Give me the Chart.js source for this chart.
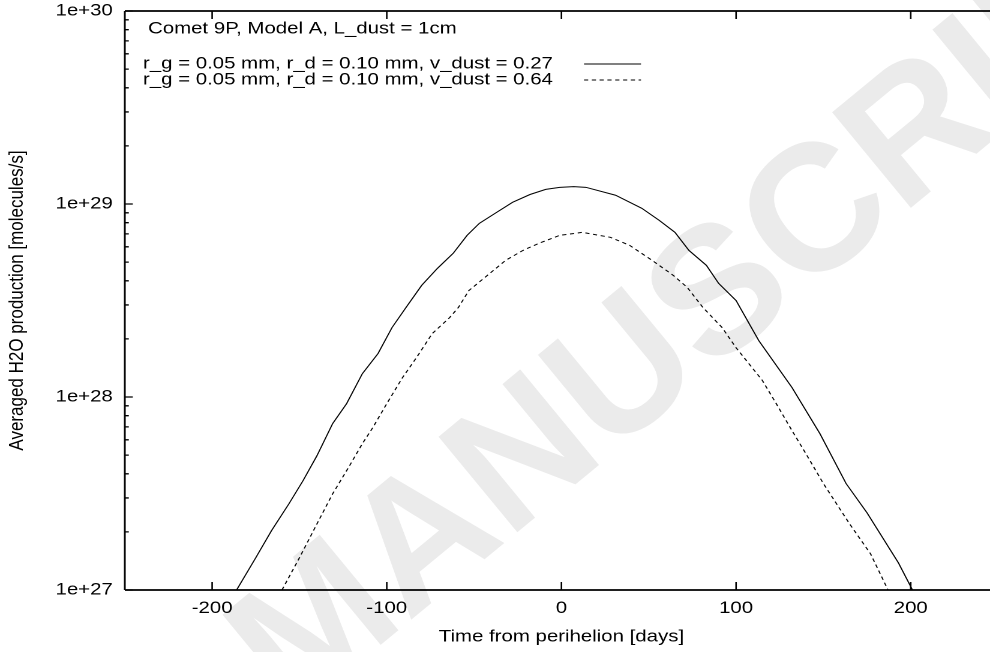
<!DOCTYPE html>
<html>
<head>
<meta charset="utf-8">
<script src="https://cdn.jsdelivr.net/npm/chart.js@4.4.0/dist/chart.umd.min.js"></script>
<style>
    html, body { margin: 0; padding: 0; background: #fff; overflow: hidden; width: 990px; height: 652px; }
    /* the original plot is stretched sideways, so draw narrow and widen it */
    #wrap { position: absolute; left: 0; top: 0; width: 834px; height: 652px; transform: scaleX(1.2); transform-origin: 0 0; }
</style>
</head>
<body>
<div id="wrap"><canvas id="chart" width="834" height="652"></canvas></div>
<script>
const STRETCH = 1.2;
const FONT = '"Liberation Sans", Arial, Helvetica, sans-serif';
const FONT_SIZE = 17;

// v_dust = 0.27 (solid)
const daysSolid = [-186, -175, -166, -156, -148, -140, -131, -123, -114, -105, -97, -89, -80, -71, -62, -54, -47, -37, -28, -18, -9, -1, 7, 14, 31, 46, 56, 65, 73, 83, 90, 100, 113, 132, 148, 163, 175, 193, 201];
const prodSolid = [1.0e27, 1.47e27, 2.03e27, 2.80e27, 3.68e27, 4.96e27, 7.28e27, 9.24e27, 1.32e28, 1.68e28, 2.29e28, 2.91e28, 3.79e28, 4.64e28, 5.55e28, 6.88e28, 7.94e28, 9.06e28, 1.02e29, 1.12e29, 1.19e29, 1.22e29, 1.23e29, 1.22e29, 1.11e29, 9.50e28, 8.23e28, 7.13e28, 5.75e28, 4.81e28, 3.88e28, 3.16e28, 1.96e28, 1.12e28, 6.46e27, 3.56e27, 2.51e27, 1.38e27, 1.0e27];

// v_dust = 0.64 (dashed)
const daysDashed = [-160, -150, -140, -131, -122, -114, -108, -100, -91, -83, -74, -64, -59, -53, -41, -32, -22, -13, -1, 12, 28, 39, 52, 64, 72, 81, 92, 100, 115, 123, 132, 140, 150, 165, 177, 187];
const prodDashed = [1.0e27, 1.47e27, 2.20e27, 3.15e27, 4.30e27, 5.73e27, 6.94e27, 9.24e27, 1.26e28, 1.60e28, 2.13e28, 2.58e28, 2.91e28, 3.56e28, 4.37e28, 5.10e28, 5.75e28, 6.25e28, 6.88e28, 7.13e28, 6.72e28, 6.11e28, 5.10e28, 4.27e28, 3.70e28, 2.91e28, 2.29e28, 1.80e28, 1.22e28, 9.24e27, 6.70e27, 5.08e27, 3.56e27, 2.20e27, 1.54e27, 1.0e27];

const seriesLabels = [
    'r_g = 0.05 mm, r_d = 0.10 mm, v_dust = 0.27',
    'r_g = 0.05 mm, r_d = 0.10 mm, v_dust = 0.64'
];
const plotTitle = 'Comet 9P, Model A, L_dust = 1cm';

const xTickValues = [-200, -100, 0, 100, 200];
const yTickValues = [1e27, 1e28, 1e29, 1e30];
const yTickLabels = ['1e+27', '1e+28', '1e+29', '1e+30'];

function toPoints(xs, ys) {
    return xs.map((x, i) => ({ x: x, y: ys[i] }));
}

/**
 * Light diagonal watermark behind everything
 */
const watermarkPlugin = {
    id: 'watermark',
    beforeDraw(chart) {
        const ctx = chart.ctx;
        ctx.save();
        ctx.scale(1 / STRETCH, 1);
        ctx.translate(292, 718);
        ctx.rotate(-39.5 * Math.PI / 180);
        ctx.font = 'bold 180px ' + FONT;
        ctx.fillStyle = '#ebebeb';
        ctx.textBaseline = 'alphabetic';
        ctx.fillText('MANUSCRIPT', 0, 0);
        ctx.restore();
    }
};

/**
 * gnuplot style frame with inward ticks, plus the key in the corner
 */
const framePlugin = {
    id: 'frame',
    afterDraw(chart) {
        const ctx = chart.ctx;
        const area = chart.chartArea;
        const xs = chart.scales.x;
        const ys = chart.scales.y;

        ctx.save();
        ctx.strokeStyle = '#000';

        // horizontal edges
        ctx.lineWidth = 1.8;
        ctx.beginPath();
        ctx.moveTo(area.left, area.top); ctx.lineTo(area.right, area.top);
        ctx.moveTo(area.left, area.bottom); ctx.lineTo(area.right, area.bottom);
        ctx.stroke();
        // vertical edges
        ctx.lineWidth = 1.5;
        ctx.beginPath();
        ctx.moveTo(area.left, area.top); ctx.lineTo(area.left, area.bottom);
        ctx.moveTo(area.right, area.top); ctx.lineTo(area.right, area.bottom);
        ctx.stroke();

        // x ticks, bottom and top
        ctx.lineWidth = 1.3;
        ctx.beginPath();
        xTickValues.forEach(v => {
            const px = xs.getPixelForValue(v);
            ctx.moveTo(px, area.bottom); ctx.lineTo(px, area.bottom - 8);
            ctx.moveTo(px, area.top); ctx.lineTo(px, area.top + 8);
        });
        ctx.stroke();

        // y ticks, major and minor, left and right
        ctx.beginPath();
        yTickValues.forEach(dec => {
            for (let m = 1; m <= 9; m++) {
                const v = dec * m;
                if (v > yTickValues[yTickValues.length - 1]) break;
                const py = ys.getPixelForValue(v);
                const len = (m === 1 ? 8 : 4) / STRETCH;
                ctx.moveTo(area.left, py); ctx.lineTo(area.left + len, py);
                ctx.moveTo(area.right, py); ctx.lineTo(area.right - len, py);
            }
        });
        ctx.stroke();

        // title and key
        ctx.fillStyle = '#000';
        ctx.font = FONT_SIZE + 'px ' + FONT;
        ctx.textAlign = 'left';
        ctx.textBaseline = 'middle';
        ctx.fillText(plotTitle, 148 / STRETCH, 29);

        const keyY = [64, 80];
        chart.data.datasets.forEach((ds, i) => {
            ctx.fillText(ds.label, 143 / STRETCH, keyY[i]);
            ctx.lineWidth = ds.borderWidth;
            ctx.setLineDash(ds.borderDash || []);
            ctx.beginPath();
            ctx.moveTo(584 / STRETCH, keyY[i]);
            ctx.lineTo(641 / STRETCH, keyY[i]);
            ctx.stroke();
        });
        ctx.setLineDash([]);
        ctx.restore();
    }
};

const ctx = document.getElementById('chart');

const h2oChart = new Chart(ctx, {
    type: 'line',
    data: {
        datasets: [{
            label: seriesLabels[0],
            data: toPoints(daysSolid, prodSolid),
            borderColor: '#000',
            borderWidth: 1,
            pointRadius: 0,
            tension: 0,
            fill: false
        }, {
            label: seriesLabels[1],
            data: toPoints(daysDashed, prodDashed),
            borderColor: '#000',
            borderWidth: 1,
            borderDash: [3.5, 3],
            pointRadius: 0,
            tension: 0,
            fill: false
        }]
    },
    options: {
        responsive: false,
        animation: false,
        devicePixelRatio: 2,
        layout: {
            padding: { left: 0, top: 11, right: 2.3, bottom: 0 }
        },
        plugins: {
            legend: { display: false },
            tooltip: { enabled: false }
        },
        scales: {
            x: {
                type: 'linear',
                min: -250,
                max: 250,
                afterBuildTicks: s => { s.ticks = xTickValues.map(v => ({ value: v })); },
                afterFit: s => { s.height = 62; s.paddingLeft = 0; s.paddingRight = 0; },
                grid: { display: false, drawTicks: false },
                border: { display: false },
                ticks: {
                    color: '#000',
                    padding: 8,
                    maxRotation: 0,
                    autoSkip: false,
                    font: { family: FONT, size: FONT_SIZE },
                    callback: v => String(v)
                },
                title: {
                    display: true,
                    text: 'Time from perihelion [days]',
                    color: '#000',
                    padding: { top: 0, bottom: 5 },
                    font: { family: FONT, size: FONT_SIZE }
                }
            },
            y: {
                type: 'logarithmic',
                min: 1e27,
                max: 1e30,
                afterBuildTicks: s => { s.ticks = yTickValues.map(v => ({ value: v, major: true })); },
                // fixed axis box, no extra room for the end labels
                afterFit: s => { s.width = 104; s.paddingTop = 0; s.paddingBottom = 0; },
                grid: { display: false, drawTicks: false },
                border: { display: false },
                ticks: {
                    color: '#000',
                    padding: 10,
                    autoSkip: false,
                    font: { family: FONT, size: FONT_SIZE },
                    callback: (v, i) => yTickLabels[i]
                },
                title: {
                    display: true,
                    text: 'Averaged H2O production [molecules/s]',
                    color: '#000',
                    padding: { top: 4, bottom: 0 },
                    font: { family: FONT, size: FONT_SIZE }
                }
            }
        }
    },
    plugins: [watermarkPlugin, framePlugin]
});
</script>
</body>
</html>
